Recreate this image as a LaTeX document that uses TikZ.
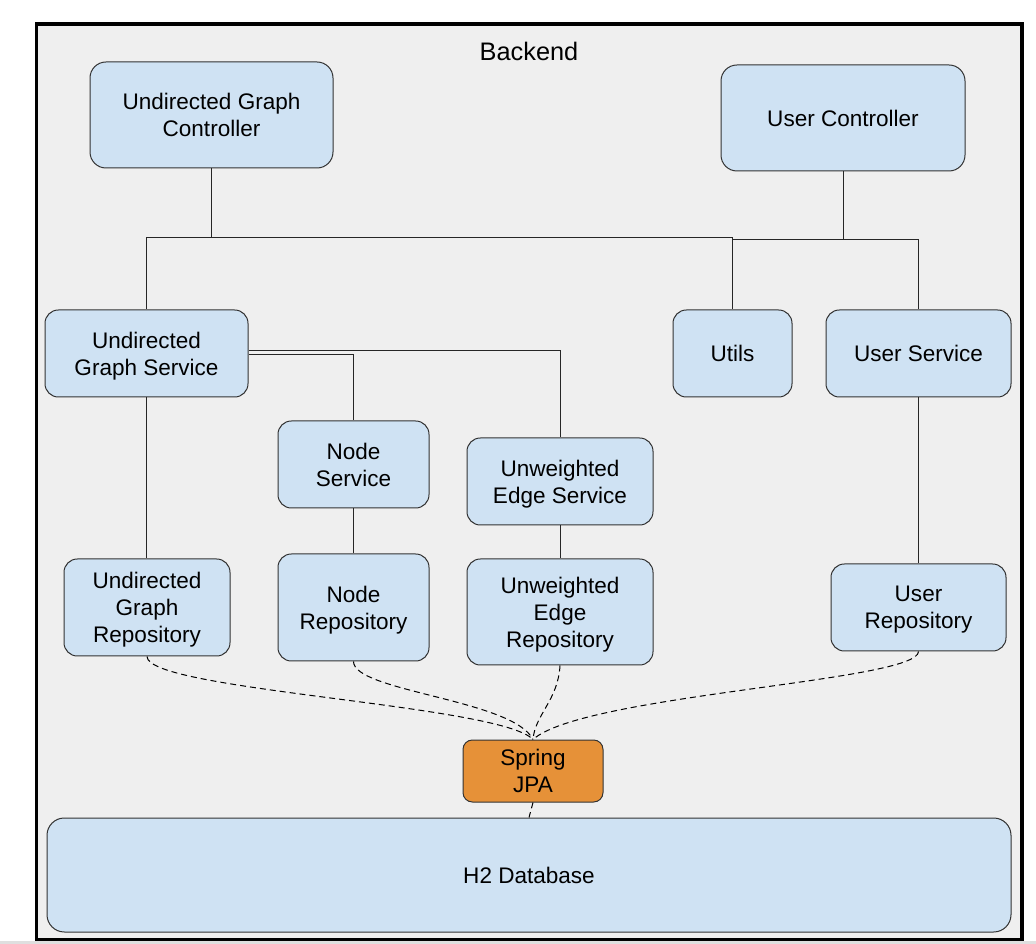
\documentclass[tikz,border=0pt]{standalone}
\usepackage{fontspec}
\setmainfont{Liberation Sans}

\definecolor{boxblue}{HTML}{CFE2F3}
\definecolor{jpaorange}{HTML}{E69138}
\definecolor{backgrey}{HTML}{EFEFEF}
\definecolor{edgegrey}{HTML}{333333}

\begin{document}
\begin{tikzpicture}
    [x=0.75pt,y=-0.75pt,
     box/.style={rectangle,rounded corners=10pt,draw=edgegrey,line width=0.75pt,
                 fill=boxblue,align=center,inner sep=0pt,
                 font=\fontsize{16.9}{20.25}\selectfont},
     mline/.style={text depth=-2pt},
     link/.style={draw=black!85,line width=0.75pt},
     jpalink/.style={draw=black,line width=0.75pt,dash pattern=on 4.5pt off 3pt}]
    \useasboundingbox (0,0) rectangle (1036,944);
    %Frame
    \fill[gray!25] (0,941) rectangle (1036,944);
    \draw[line width=2.4pt,fill=backgrey] (36.5,24) rectangle (1022,939.5);
    \node[font=\fontsize{19}{23}\selectfont] (title) at (529,51) {Backend};

    %Nodes
    \node[box,rounded corners=12pt,minimum width=182.25pt,minimum height=79.5pt] (ugc) at (211.5,115) {Undirected Graph\\Controller};
    \node[box,rounded corners=12pt,minimum width=183pt,minimum height=79.5pt] (uc) at (843,118) {User Controller};
    \node[box,mline,minimum width=152.25pt,minimum height=65.25pt] (ugs) at (146.5,353.5) {Undirected\\Graph Service};
    \node[box,minimum width=89.25pt,minimum height=65.25pt] (utils) at (732.5,353.5) {Utils};
    \node[box,minimum width=138.75pt,minimum height=65.25pt] (us) at (918.5,353.5) {User Service};
    \node[box,minimum width=113.25pt,minimum height=65.25pt] (ns) at (353.5,464.5) {Node\\Service};
    \node[box,mline,minimum width=139.5pt,minimum height=65.25pt] (ues) at (560,481.5) {Unweighted\\Edge Service};
    \node[box,mline,minimum width=124.5pt,minimum height=72.75pt] (ugr) at (147,607.5) {Undirected\\Graph\\Repository};
    \node[box,mline,minimum width=113.25pt,minimum height=80.25pt] (nr) at (353.5,607.5) {Node\\Repository};
    \node[box,mline,minimum width=139.5pt,minimum height=79.5pt] (uer) at (560,612) {Unweighted\\Edge\\Repository};
    \node[box,mline,minimum width=131.25pt,minimum height=65.25pt] (ur) at (918.5,607.5) {User\\Repository};
    \node[box,rounded corners=7pt,fill=jpaorange,minimum width=105pt,minimum height=46.5pt] (jpa) at (533,771) {Spring\\JPA};
    \node[box,rounded corners=13pt,minimum width=723pt,minimum height=85.5pt] (h2) at (529,875) {H2 Database};

    \coordinate (busL) at (0,238);
    \coordinate (busR) at (0,240);

    %Edges
    \draw[link] (ugc.south) -- (ugc.south |- busL) -| (ugs.north);
    \draw[link] (ugc.south |- busL) -| (utils.north);
    \draw[link] (uc.south) -- (uc.south |- busR) -| (utils.north);
    \draw[link] (uc.south |- busR) -| (us.north);
    \draw[link] ([yshift=-0.5pt]ugs.east) -| (ns.north);
    \draw[link] ([yshift=2pt]ugs.east) -| (ues.north);
    \draw[link] (ugs.south) -- (ugs.south |- ugr.north);
    \draw[link] (ns) -- (nr);
    \draw[link] (ues) -- (uer);
    \draw[link] (us) -- (ur);

    %Dashed edges
    \draw[jpalink] (ugr.south) .. controls +(0,34) and +(-33,-35) .. (jpa.north);
    \draw[jpalink] (nr.south) .. controls +(0,30) and +(-20,-40) .. (jpa.north);
    \draw[jpalink] (uer.south) .. controls +(-2,35) and +(2,-25) .. (jpa.north);
    \draw[jpalink] (ur.south) .. controls +(0,30) and +(50,-45) .. (jpa.north);
    \draw[jpalink] (jpa.south) -- (h2.north);

\end{tikzpicture}
\end{document}
